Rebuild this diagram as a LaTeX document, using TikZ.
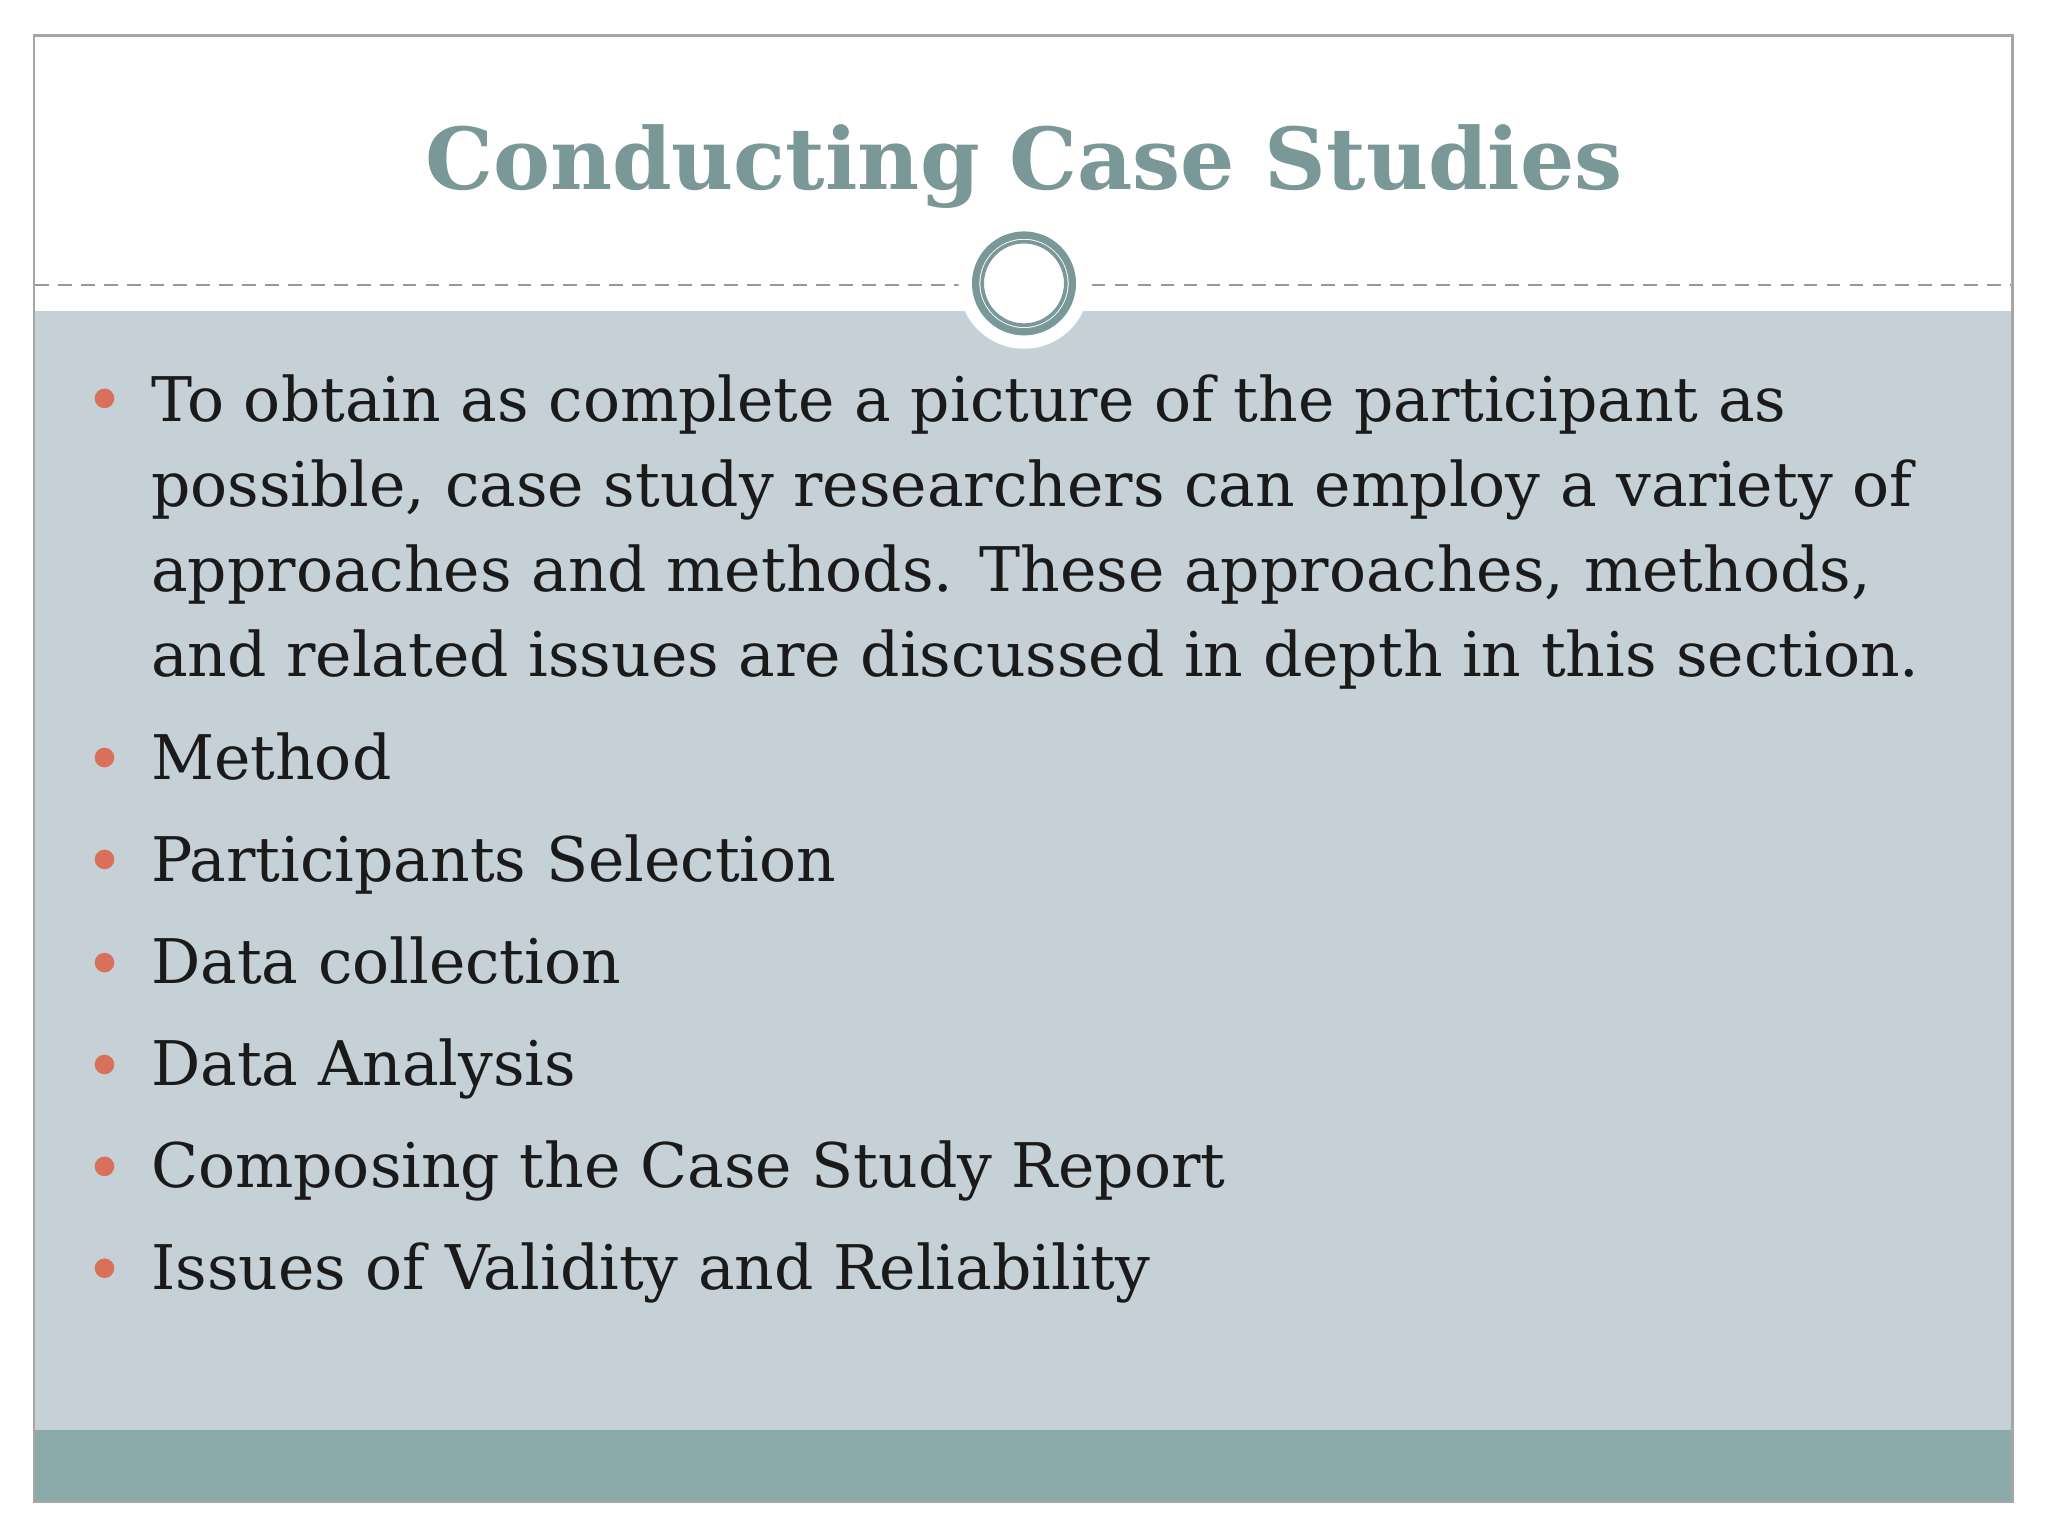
\documentclass[tikz,border=0pt]{standalone}
\usepackage{fontspec}
\setmainfont{DejaVu Serif}
\definecolor{bodybg}{HTML}{C5D1D6}
\definecolor{band}{HTML}{8DAAAA}
\definecolor{titlec}{HTML}{7A9898}
\definecolor{bul}{HTML}{D9705A}
\definecolor{txt}{HTML}{1A1A1A}
\begin{document}
\begin{tikzpicture}[x=0.01cm,y=-0.01cm,
  item/.style={anchor=base west,inner sep=0,font=\fontsize{13.4}{18.5}\selectfont,text=txt,align=left},
  dot/.style={circle,fill=bul,minimum size=0.15cm,inner sep=0}]
\useasboundingbox (0,0) rectangle (1568,1176);
\fill[white] (0,0) rectangle (1568,1176);
\fill[bodybg] (26,238) rectangle (1541,1095);
\fill[band] (26,1095) rectangle (1541,1150);
\draw[gray!70,line width=0.6pt] (26,27) rectangle (1541,1150);
\draw[gray!80,densely dashed,line width=0.4pt] (27,218) -- (1540,218);
\fill[white] (784,217) circle (50);
\draw[titlec,line width=1.6pt] (784,217) circle (37);
\draw[titlec,line width=0.8pt] (784,217) circle (32);
\node[anchor=base,font=\fontsize{18.6}{22}\selectfont\bfseries,text=titlec,inner sep=0] (title) at (784,145) {Conducting Case Studies};
\node[item] (p1) at (115,518) {To obtain as complete a picture of the participant as\\possible, case study researchers can employ a variety of\\approaches and methods. These approaches, methods,\\and related issues are discussed in depth in this section.};
\node[item] (p2) at (115,597) {Method};
\node[item] (p3) at (115,675) {Participants Selection};
\node[item] (p4) at (115,753) {Data collection};
\node[item] (p5) at (115,831) {Data Analysis};
\node[item] (p6) at (115,909) {Composing the Case Study Report};
\node[item] (p7) at (115,987) {Issues of Validity and Reliability};
\foreach \n/\yy in {b1/305,b2/580,b3/658,b4/737,b5/815,b6/893,b7/971}
  \node[dot] (\n) at (80,\yy) {};
\end{tikzpicture}
\end{document}
